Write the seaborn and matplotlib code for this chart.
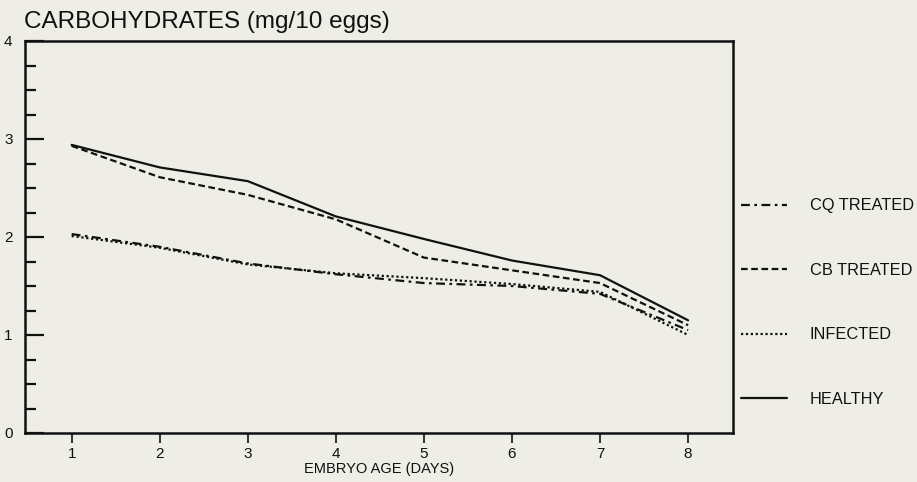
import pandas as pd
import numpy as np
import matplotlib
matplotlib.use("Agg")
import matplotlib.pyplot as plt
import seaborn as sns

# embryo age (days)
days = [1, 2, 3, 4, 5, 6, 7, 8]

# carbohydrates (mg/10 eggs)
cq_treated = [2.03, 1.90, 1.73, 1.62, 1.53, 1.50, 1.42, 1.05]
cb_treated = [2.93, 2.61, 2.43, 2.18, 1.79, 1.66, 1.53, 1.10]
infected = [2.01, 1.89, 1.72, 1.63, 1.58, 1.52, 1.44, 1.00]
healthy = [2.94, 2.71, 2.57, 2.21, 1.98, 1.76, 1.61, 1.15]

groups = ["CQ TREATED", "CB TREATED", "INFECTED", "HEALTHY"]
series = [cq_treated, cb_treated, infected, healthy]

df = pd.concat([pd.DataFrame({"day": days, "carb": vals, "group": g})
                for g, vals in zip(groups, series)], ignore_index=True)

bg = "#eeeee6"
ink = "#111111"
sns.set_theme(style="ticks")
plt.rcParams["font.family"] = ["Liberation Sans", "DejaVu Sans"]
plt.rcParams["text.color"] = ink
plt.rcParams["axes.labelcolor"] = ink
plt.rcParams["xtick.color"] = ink
plt.rcParams["ytick.color"] = ink

fig = plt.figure(figsize=(9.17, 4.82), dpi=100, facecolor=bg)
ax = fig.add_axes([25 / 917, 49 / 482, (733 - 25) / 917, (433 - 41) / 482])
ax.set_facecolor(bg)

dashes = {
    "CQ TREATED": (4, 2, 1.2, 2),
    "CB TREATED": (3, 1.6),
    "INFECTED": (1, 1.2),
    "HEALTHY": "",
}
sns.lineplot(data=df, x="day", y="carb", hue="group", style="group",
             palette={g: ink for g in groups}, dashes=dashes,
             hue_order=groups, style_order=groups, linewidth=1.6, ax=ax)

ax.set_xlim(0.47, 8.51)
ax.set_ylim(0, 4)
ax.set_xticks(days)
ax.set_yticks([0, 1, 2, 3, 4])
ax.set_yticks(np.arange(0, 4.01, 0.25), minor=True)
ax.tick_params(axis="y", which="major", direction="in", length=14, width=1.6,
               labelsize=11, pad=9)
ax.tick_params(axis="y", which="minor", direction="in", length=8, width=1.6)
ax.tick_params(axis="x", which="major", direction="out", length=7, width=1.2,
               labelsize=11, pad=3)
for s in ax.spines.values():
    s.set_linewidth(1.8)
    s.set_color(ink)

ax.set_xlabel("EMBRYO AGE (DAYS)", fontsize=10.5, labelpad=1)
ax.set_ylabel("")
fig.text(24 / 917, 1 - 22 / 482, "CARBOHYDRATES (mg/10 eggs)", fontsize=17.5,
         va="center", ha="left")

handles, labels = ax.get_legend_handles_labels()
ax.legend(handles, labels, loc="upper left", bbox_to_anchor=(0.995, 0.628),
          frameon=False, fontsize=11.8, handlelength=2.8, handletextpad=1.4,
          labelspacing=3.02, borderaxespad=0.3)

fig.savefig("out.png", dpi=100, facecolor=bg)
